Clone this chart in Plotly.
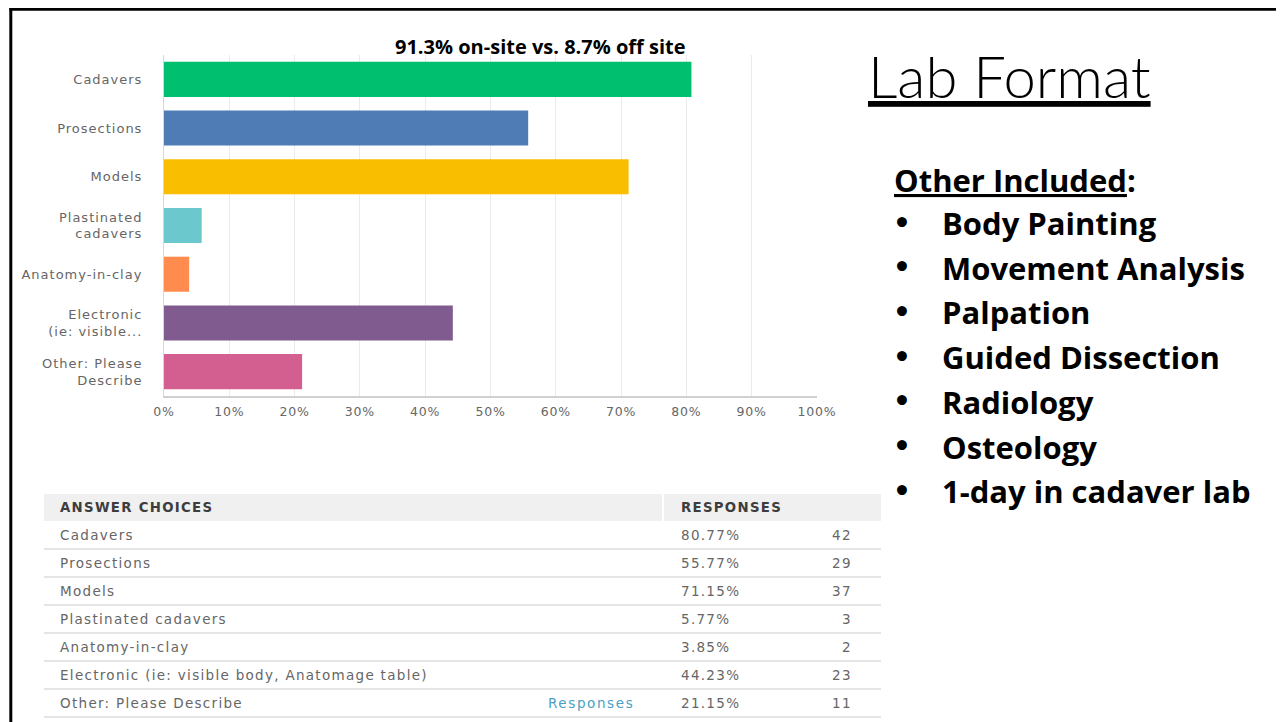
import plotly.graph_objects as go

# ---------------- data ----------------
categories = ["Cadavers", "Prosections", "Models", "Plastinated<br>cadavers",
              "Anatomy-in-clay", "Electronic<br>(ie: visible...", "Other: Please<br>Describe"]
table_choices = ["Cadavers", "Prosections", "Models", "Plastinated cadavers",
                 "Anatomy-in-clay", "Electronic (ie: visible body, Anatomage table)",
                 "Other: Please Describe"]
percent = [80.77, 55.77, 71.15, 5.77, 3.85, 44.23, 21.15]
counts = [42, 29, 37, 3, 2, 23, 11]
bar_colors = ["#00bf6f", "#507cb6", "#f9be00", "#6bc8cd", "#ff8b4f", "#7f5b8f", "#d25f90"]
x_ticks = [0, 10, 20, 30, 40, 50, 60, 70, 80, 90, 100]
chart_note = "91.3% on-site vs. 8.7% off site"
slide_title = "Lab Format"
other_header = "Other Included"
other_items = ["Body Painting", "Movement Analysis", "Palpation", "Guided Dissection",
               "Radiology", "Osteology", "1-day in cadaver lab"]

# page has an 8px body margin: figure occupies screen px 8..1284 / 8..722
OFF = 8
W, H = 1284 - OFF, 722 - OFF


def px(x):
    return (x - OFF) / W


def py(y):
    return 1 - (y - OFF) / H


def spaced(text, sp):
    return "<br>".join(f"<span style='letter-spacing:{sp}px'>{part}</span>" for part in text.split("<br>"))


GREY_TXT = "#666666"
FONT = "DejaVu Sans"
SP = 1.3

fig = go.Figure()
fig.add_trace(go.Bar(
    y=categories, x=percent, orientation="h",
    marker=dict(color=bar_colors, line=dict(width=0)),
    hoverinfo="x+y",
))

shapes = []
annotations = []

# slide border (top and left)
shapes.append(dict(type="line", xref="paper", yref="paper", x0=px(9.5), x1=1, y0=py(9.3), y1=py(9.3),
                   line=dict(color="#000", width=3)))
shapes.append(dict(type="line", xref="paper", yref="paper", x0=px(10.8), x1=px(10.8), y0=py(8), y1=0,
                   line=dict(color="#000", width=3)))

# chart note
annotations.append(dict(text="<b>" + chart_note + "</b>", xref="paper", yref="paper",
                        x=px(540), y=py(46), xanchor="center", yanchor="middle", showarrow=False,
                        font=dict(family="Open Sans", size=20, color="#000")))

# ---------------- table ----------------
tbl_left, tbl_split, tbl_right = 44, 663, 881
head_top, head_bot = 494, 521
row_h = 28
shapes.append(dict(type="rect", xref="paper", yref="paper", x0=px(tbl_left), x1=px(tbl_split - 1),
                   y0=py(head_bot), y1=py(head_top), fillcolor="#f0f0f0", line=dict(width=0), layer="below"))
shapes.append(dict(type="rect", xref="paper", yref="paper", x0=px(tbl_split + 1), x1=px(tbl_right),
                   y0=py(head_bot), y1=py(head_top), fillcolor="#f0f0f0", line=dict(width=0), layer="below"))
annotations.append(dict(text="<b>" + spaced("ANSWER CHOICES", 1.3) + "</b>", xref="paper", yref="paper",
                        x=px(58), y=py(507.5), xanchor="left", yanchor="middle", showarrow=False,
                        font=dict(family=FONT, size=13.3, color="#3d3d3d")))
annotations.append(dict(text="<b>" + spaced("RESPONSES", 1.3) + "</b>", xref="paper", yref="paper",
                        x=px(679), y=py(507.5), xanchor="left", yanchor="middle", showarrow=False,
                        font=dict(family=FONT, size=13.3, color="#3d3d3d")))
for i, (name, p, c) in enumerate(zip(table_choices, percent, counts)):
    yc = head_bot + row_h * i + 14
    annotations.append(dict(text=spaced(name, SP), xref="paper", yref="paper", x=px(58), y=py(yc),
                            xanchor="left", yanchor="middle", showarrow=False,
                            font=dict(family=FONT, size=13.5, color=GREY_TXT)))
    annotations.append(dict(text=spaced(f"{p:.2f}%", SP), xref="paper", yref="paper", x=px(679), y=py(yc),
                            xanchor="left", yanchor="middle", showarrow=False,
                            font=dict(family=FONT, size=13.5, color=GREY_TXT)))
    annotations.append(dict(text=spaced(str(c), SP), xref="paper", yref="paper", x=px(854), y=py(yc),
                            xanchor="right", yanchor="middle", showarrow=False,
                            font=dict(family=FONT, size=13.5, color=GREY_TXT)))
    yl = head_bot + row_h * (i + 1)
    shapes.append(dict(type="line", xref="paper", yref="paper", x0=px(tbl_left), x1=px(tbl_right),
                       y0=py(yl), y1=py(yl), line=dict(color="#dcdcdc", width=1.5)))
    if name.startswith("Other"):
        annotations.append(dict(text=spaced("Responses", 1.6), xref="paper", yref="paper", x=px(636), y=py(yc),
                                xanchor="right", yanchor="middle", showarrow=False,
                                font=dict(family=FONT, size=13.5, color="#4a9fc2")))

# ---------------- right text ----------------
annotations.append(dict(text="<u>" + slide_title + "</u>", xref="paper", yref="paper", x=px(866), y=py(75),
                        xanchor="left", yanchor="middle", showarrow=False,
                        font=dict(family="Lato", size=58, weight=300, color="#000")))
annotations.append(dict(text="<b><u>" + other_header + "</u>:</b>", xref="paper", yref="paper",
                        x=px(892), y=py(180), xanchor="left", yanchor="middle", showarrow=False,
                        font=dict(family="Open Sans", size=31, color="#000")))
for i, item in enumerate(other_items):
    yc = 223 + 44.7 * i
    annotations.append(dict(text="<b>•</b>", xref="paper", yref="paper", x=px(902), y=py(yc),
                            xanchor="center", yanchor="middle", showarrow=False,
                            font=dict(family="DejaVu Sans", size=28, color="#000")))
    annotations.append(dict(text="<b>" + item + "</b>", xref="paper", yref="paper", x=px(940), y=py(yc),
                            xanchor="left", yanchor="middle", showarrow=False,
                            font=dict(family="Open Sans", size=31, color="#000")))

fig.update_layout(
    width=W, height=H,
    margin=dict(l=0, r=0, t=0, b=0, autoexpand=False),
    paper_bgcolor="white", plot_bgcolor="white",
    showlegend=False,
    bargap=0.28,
    shapes=shapes,
    annotations=annotations,
    xaxis=dict(domain=[px(164), px(817)], range=[0, 100], tickmode="array", tickvals=x_ticks,
               ticktext=[spaced(f"{v}%", 0.8) for v in x_ticks],
               showgrid=True, gridcolor="#ebebeb", gridwidth=1, zeroline=False,
               showline=True, linecolor="#d0d0d0", linewidth=1.5, ticks="",
               ticklabelstandoff=3, automargin=False,
               tickfont=dict(family=FONT, size=12.5, color=GREY_TXT), fixedrange=True),
    yaxis=dict(domain=[py(396), py(55)], autorange="reversed", showgrid=False,
               tickmode="array", tickvals=categories, ticktext=[spaced(c, 1.0) for c in categories],
               showline=True, linecolor="#d8d8d8", linewidth=1, ticks="",
               ticklabelstandoff=18, automargin=False,
               tickfont=dict(family=FONT, size=13, color=GREY_TXT), fixedrange=True),
)

fig.write_html("out.html")
